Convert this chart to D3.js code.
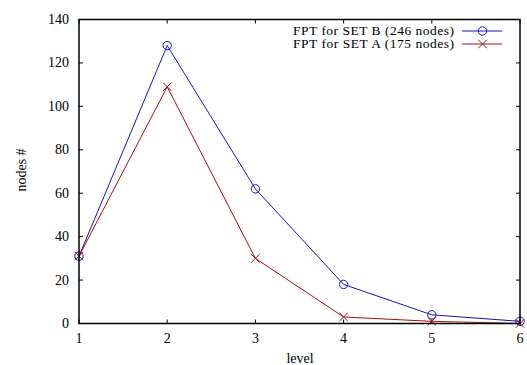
<!DOCTYPE html>
<html><head><meta charset="utf-8">
<script src="https://cdn.jsdelivr.net/npm/d3@7"></script>
<style>body{margin:0;background:#fff}svg{display:block}</style>
</head><body>
<script>
const levels = [1, 2, 3, 4, 5, 6];
const setB = [31, 128, 62, 18, 4, 1];
const setA = [31, 109, 30, 3, 1, 0];
const xTicks = [1, 2, 3, 4, 5, 6];
const yTicks = [0, 20, 40, 60, 80, 100, 120, 140];
const seriesNames = ["FPT for SET B (246 nodes)", "FPT for SET A (175 nodes)"];
const colors = ["#1414b4", "#a01010"];

const W = 527, H = 365;
const m = {l: 79, r: 520, t: 19.5, b: 323.5};
const svg = d3.select("body").append("svg").attr("width", W).attr("height", H)
  .style("font-family", '"Liberation Serif"').style("font-size", "14px");
const x = d3.scaleLinear().domain([1, 6]).range([m.l, m.r]);
const y = d3.scaleLinear().domain([0, 140]).range([m.b, m.t]);

function txt(sel) {
  return sel.append("text").style("font-family", '"Liberation Serif"').attr("fill", "#000");
}

// ticks
const tk = 4;
const g = svg.append("g").attr("stroke", "#000").attr("stroke-width", 1);
yTicks.forEach(v => {
  g.append("line").attr("x1", m.l).attr("x2", m.l + tk).attr("y1", y(v)).attr("y2", y(v));
  g.append("line").attr("x1", m.r).attr("x2", m.r - tk).attr("y1", y(v)).attr("y2", y(v));
});
xTicks.forEach(v => {
  g.append("line").attr("x1", x(v)).attr("x2", x(v)).attr("y1", m.b).attr("y2", m.b - tk);
  g.append("line").attr("x1", x(v)).attr("x2", x(v)).attr("y1", m.t).attr("y2", m.t + tk);
});
yTicks.forEach(v => txt(svg).attr("x", m.l - 10).attr("y", y(v) + 4.5).attr("text-anchor", "end").text(v));
xTicks.forEach(v => txt(svg).attr("x", x(v)).attr("y", 342.5).attr("text-anchor", "middle").text(v));

txt(svg).attr("x", 300).attr("y", 363).attr("text-anchor", "middle").text("level");
txt(svg).attr("transform", "translate(25.5,170) rotate(-90)").attr("text-anchor", "middle").text("nodes #");

const line = d3.line().x((d, i) => x(levels[i])).y(d => y(d));
function circle(sel, cx, cy, c) {
  sel.append("circle").attr("cx", cx).attr("cy", cy).attr("r", 4.2).attr("fill", "none").attr("stroke", c).attr("stroke-width", 1);
}
function cross(sel, cx, cy, c) {
  const s = 4.2;
  sel.append("path").attr("d", `M${cx-s},${cy-s}L${cx+s},${cy+s}M${cx-s},${cy+s}L${cx+s},${cy-s}`).attr("stroke", c).attr("stroke-width", 1).attr("fill", "none");
}
const data = [setB, setA];
data.forEach((s, k) => {
  svg.append("path").datum(s).attr("d", line).attr("fill", "none").attr("stroke", colors[k]).attr("stroke-width", 1);
  s.forEach((v, i) => (k === 0 ? circle : cross)(svg, x(levels[i]), y(v), colors[k]));
});

// frame
svg.append("rect").attr("x", m.l).attr("y", m.t).attr("width", m.r - m.l).attr("height", m.b - m.t)
  .attr("fill", "none").attr("stroke", "#000").attr("stroke-width", 1.5);

// legend
seriesNames.forEach((n, k) => {
  const ly = 31 + k * 13;
  txt(svg).attr("x", 454).attr("y", ly + 3.8).attr("text-anchor", "end")
    .style("font-size", "13.5px").attr("textLength", 161).attr("lengthAdjust", "spacing").text(n);
  svg.append("line").attr("x1", 462).attr("x2", 502).attr("y1", ly).attr("y2", ly).attr("stroke", colors[k]).attr("stroke-width", 1);
  (k === 0 ? circle : cross)(svg, 482.5, ly, colors[k]);
});
</script>
</body></html>
